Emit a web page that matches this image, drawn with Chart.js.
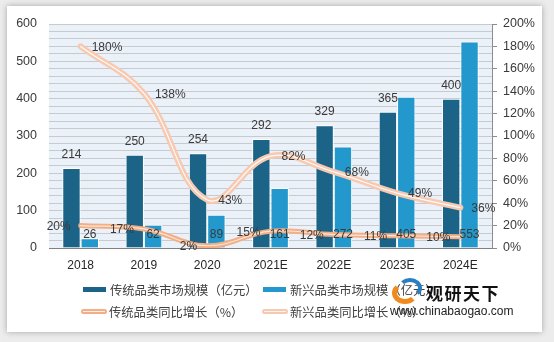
<!DOCTYPE html>
<html>
<head>
<meta charset="utf-8">
<script src="https://cdn.jsdelivr.net/npm/chart.js@4.4.1/dist/chart.umd.min.js"></script>
<style>
    html, body { margin: 0; padding: 0; }
    body {
        width: 554px; height: 342px; overflow: hidden; position: relative;
        background: #ececec;
        font-family: "Liberation Sans", Arial, sans-serif;
    }
    #card {
        position: absolute; left: 7px; top: 6px; width: 535px; height: 326px;
        background: #fff; box-shadow: 0 0 6px rgba(0, 0, 0, 0.3);
    }
    #wrap { position: absolute; left: 0; top: 0; width: 554px; height: 342px; }
    #legend { position: absolute; left: 0; top: 0; }
    .lg-item {
        position: absolute; height: 20px; line-height: 20px; white-space: nowrap;
        font-family: "Noto Sans CJK SC", sans-serif; font-size: 12.3px; color: #404040;
    }
    .lg-mark { position: absolute; top: 7px; width: 23px; height: 5px; }
    .lg-mark.line { height: 5px; border-radius: 3px; width: 26px; }
    .lg-mark.line::after {
        content: ''; position: absolute; left: 2px; right: 2px; top: 2px; height: 1px;
        background: rgba(255, 255, 255, 0.8);
    }
    #mark {
        position: absolute; left: 388px; top: 276px; width: 120px; height: 46px;
    }
    #mark .logo-a {
        position: absolute; left: 4px; top: 6px; width: 26px; height: 22px;
        border-radius: 50%; border: 5px solid #f08a1c; border-top-color: transparent;
        border-right-color: transparent; box-sizing: border-box;
    }
    #mark .logo-b {
        position: absolute; left: 10px; top: 2px; width: 24px; height: 20px;
        border-radius: 50%; border: 4px solid #2a7fc1; border-bottom-color: transparent;
        border-left-color: transparent; box-sizing: border-box;
    }
    #mark .name {
        position: absolute; left: 38px; top: 4px; font-size: 17px; font-weight: bold;
        letter-spacing: 1.5px; color: #111; font-family: "Noto Sans CJK SC", sans-serif;
    }
    #mark .site {
        position: absolute; left: 2px; top: 28px; font-size: 12px; color: #222;
        font-family: "Liberation Sans", Arial, sans-serif;
    }
</style>
</head>
<body>
<div id="card"></div>
<div id="wrap"><canvas id="chart-market" width="554" height="342"></canvas></div>
<div id="legend"></div>
<div id="mark">
    <div class="logo-a"></div><div class="logo-b"></div>
    <div class="name">观研天下</div>
    <div class="site">www.chinabaogao.com</div>
</div>
<script>
const years = ['2018', '2019', '2020', '2021E', '2022E', '2023E', '2024E'];
const traditionalScale = [214, 250, 254, 292, 329, 365, 400];
const emergingScale = [26, 62, 89, 161, 272, 405, 553];
const traditionalGrowth = [20, 17, 2, 15, 12, 11, 10];
const emergingGrowth = [180, 138, 43, 82, 68, 49, 36];

const DARK_BAR = '#1b6488';
const LIGHT_BAR = '#2398cc';
const TRAD_LINE = '#f3ae86';
const NEW_LINE = '#f7c9b0';
const TEXT = '#3a3a3a';

// light blue plot background
const plotBackground = {
    id: 'plotBackground',
    beforeDraw(chart) {
        const { ctx, chartArea: a } = chart;
        ctx.save();
        ctx.fillStyle = '#ebf1f8';
        ctx.fillRect(a.left, a.top, a.right - a.left, a.bottom - a.top);
        ctx.restore();
    },
};

// value labels: 'top' above bar, 'base' inside bar near axis, 'right' / 'left' beside point
const valueLabels = {
    id: 'valueLabels',
    afterDatasetsDraw(chart) {
        const ctx = chart.ctx;
        const base = chart.scales.y.getPixelForValue(0);
        ctx.save();
        ctx.font = '12px "Liberation Sans", Arial, sans-serif';
        ctx.fillStyle = TEXT;
        ctx.textBaseline = 'middle';
        chart.data.datasets.forEach((ds, i) => {
            if (!ds.labelMode) return;
            const meta = chart.getDatasetMeta(i);
            meta.data.forEach((el, j) => {
                const v = ds.data[j];
                const text = v + (ds.labelSuffix || '');
                if (ds.labelMode === 'top') {
                    ctx.textAlign = 'center';
                    ctx.fillText(text, el.x, el.y - 13);
                } else if (ds.labelMode === 'base') {
                    ctx.textAlign = 'center';
                    ctx.fillText(text, el.x, base - 13);
                } else if (ds.labelMode === 'right') {
                    ctx.textAlign = 'left';
                    ctx.fillText(text, el.x + 11, el.y + 1);
                } else {
                    ctx.textAlign = 'right';
                    ctx.fillText(text, el.x - 10, el.y + 1);
                }
            });
        });
        ctx.restore();
    },
};

const lineCommon = {
    type: 'line',
    yAxisID: 'y1',
    pointRadius: 0,
    tension: 0.4,
    fill: false,
    borderCapStyle: 'round',
};

const marketChart = new Chart(document.getElementById('chart-market'), {
    type: 'bar',
    data: {
        labels: years,
        datasets: [
            {
                label: '传统品类市场规模（亿元）',
                data: traditionalScale,
                backgroundColor: DARK_BAR,
                borderColor: '#ffffff',
                borderWidth: 1,
                barPercentage: 1,
                categoryPercentage: 0.58,
                order: 3,
                labelMode: 'top',
            },
            {
                label: '新兴品类市场规模（亿元）',
                data: emergingScale,
                backgroundColor: LIGHT_BAR,
                borderColor: '#ffffff',
                borderWidth: 1,
                barPercentage: 1,
                categoryPercentage: 0.58,
                order: 3,
                labelMode: 'base',
            },
            {
                ...lineCommon,
                label: '传统品类同比增长（%）',
                data: traditionalGrowth,
                borderColor: TRAD_LINE,
                borderWidth: 5,
                order: 2,
                labelMode: 'left',
                labelSuffix: '%',
            },
            {
                ...lineCommon,
                label: '新兴品类同比增长（%）',
                data: emergingGrowth,
                borderColor: NEW_LINE,
                borderWidth: 6,
                order: 2,
                labelMode: 'right',
                labelSuffix: '%',
            },
            // thin highlight running along each growth line
            {
                ...lineCommon,
                label: 'core-1',
                data: traditionalGrowth,
                borderColor: 'rgba(255, 236, 225, 0.9)',
                borderWidth: 1.2,
                order: 1,
            },
            {
                ...lineCommon,
                label: 'core-2',
                data: emergingGrowth,
                borderColor: 'rgba(255, 255, 255, 0.9)',
                borderWidth: 1.2,
                order: 1,
            },
        ],
    },
    options: {
        responsive: false,
        animation: false,
        events: [],
        layout: { padding: { top: 24, bottom: 64, left: 0, right: 0 } },
        plugins: {
            legend: { display: false },
            tooltip: { enabled: false },
        },
        scales: {
            x: {
                grid: { display: false, drawTicks: false },
                border: { display: true, color: '#808080', width: 1 },
                ticks: { color: '#262626', font: { size: 12, family: '"Liberation Sans", Arial' }, padding: 10 },
                afterFit: s => { s.height = 30; },
            },
            y: {
                min: 0,
                max: 600,
                border: { display: false },
                grid: { color: '#c7cbd0', drawTicks: false },
                ticks: {
                    stepSize: 20,
                    autoSkip: false,
                    maxTicksLimit: 40,
                    padding: 12,
                    color: TEXT,
                    font: { size: 12.5, family: '"Liberation Sans", Arial' },
                    callback: v => (v % 100 === 0 ? v : ''),
                },
                afterFit: s => { s.width = 49; },
            },
            y1: {
                position: 'right',
                min: 0,
                max: 200,
                border: { display: true, color: '#8c8c8c' },
                grid: { drawOnChartArea: false, drawTicks: true, tickLength: 5, color: '#8c8c8c' },
                ticks: {
                    stepSize: 20,
                    autoSkip: false,
                    padding: 6,
                    color: TEXT,
                    font: { size: 12.5, family: '"Liberation Sans", Arial' },
                    callback: v => v + '%',
                },
                afterFit: s => { s.width = 62; },
            },
        },
    },
    plugins: [plotBackground, valueLabels],
});

// two-column legend under the axis
const legendSlots = [
    { x: 83, y: 280 }, { x: 263, y: 280 },
    { x: 81, y: 302 }, { x: 262, y: 302 },
];
const legendEl = document.getElementById('legend');
marketChart.data.datasets.slice(0, 4).forEach((ds, i) => {
    const slot = legendSlots[i];
    const item = document.createElement('div');
    item.className = 'lg-item';
    item.style.left = slot.x + 'px';
    item.style.top = slot.y + 'px';
    const mark = document.createElement('span');
    mark.className = ds.type === 'line' ? 'lg-mark line' : 'lg-mark';
    mark.style.left = '0px';
    mark.style.background = ds.type === 'line' ? ds.borderColor : ds.backgroundColor;
    const label = document.createElement('span');
    label.textContent = ds.label;
    label.style.marginLeft = (ds.type === 'line' ? 28 : 27) + 'px';
    item.appendChild(mark);
    item.appendChild(label);
    legendEl.appendChild(item);
});
</script>
</body>
</html>
